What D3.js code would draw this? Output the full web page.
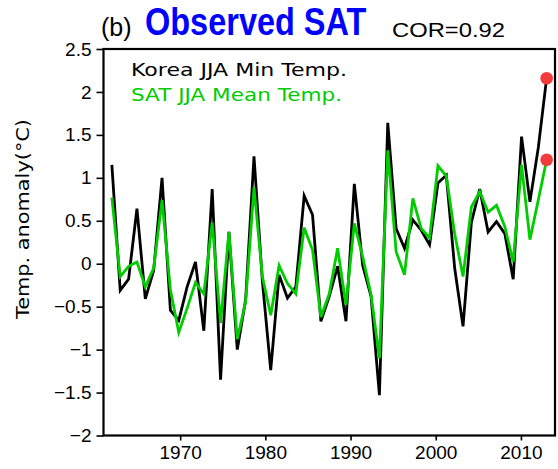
<!DOCTYPE html>
<html>
<head>
<meta charset="utf-8">
<script src="https://cdn.jsdelivr.net/npm/d3@7/dist/d3.min.js"></script>
<style>
  html, body { margin: 0; padding: 0; background: #fff; }
  svg { display: block; }
</style>
</head>
<body>
<svg id="chart" width="558" height="469"></svg>
<script>
// ---- data ----
const years = [1961,1962,1963,1964,1965,1966,1967,1968,1969,1970,1971,1972,1973,1974,1975,1976,1977,1978,1979,1980,
  1981,1982,1983,1984,1985,1986,1987,1988,1989,1990,1991,1992,1993,1994,1995,1996,1997,1998,1999,2000,
  2001,2002,2003,2004,2005,2006,2007,2008,2009,2010,2011,2012,2013];
const koreaMin = [1.15,-0.31,-0.18,0.64,-0.41,-0.08,1.0,-0.54,-0.66,-0.27,0.02,-0.78,0.87,-1.35,0.37,-1.0,-0.42,1.25,-0.2,-1.24,
  -0.13,-0.4,-0.27,0.79,0.57,-0.67,-0.38,-0.03,-0.67,0.93,-0.02,-0.38,-1.53,1.64,0.41,0.18,0.51,0.39,0.22,0.94,
  1.03,-0.05,-0.73,0.48,0.87,0.37,0.49,0.35,-0.18,1.48,0.72,1.35,2.16];
const satMean = [0.77,-0.15,-0.03,0.02,-0.27,-0.05,0.74,-0.3,-0.8,-0.52,-0.22,-0.35,0.48,-0.69,0.37,-0.88,-0.44,0.89,-0.15,-0.6,
  -0.02,-0.23,-0.35,0.42,0.16,-0.62,-0.35,0.18,-0.48,0.47,0.08,-0.36,-1.1,1.32,0.14,-0.13,0.76,0.41,0.3,1.14,
  1.02,0.35,-0.15,0.66,0.84,0.6,0.68,0.43,0.02,1.15,0.28,0.74,1.21];
const xTickYears = [1970,1980,1990,2000,2010];
const yTickValues = [-2,-1.5,-1,-0.5,0,0.5,1,1.5,2,2.5];
const seriesNames = ["Korea JJA Min Temp.","SAT JJA Mean Temp."];
const corText = "COR=0.92";

// ---- layout ----
const L = 103.5, R = 555, T = 49, B = 435.5;
const svg = d3.select("#chart");

const x = d3.scaleLinear().domain([1960, 2014]).range([L, R]);
const xAxisScale = d3.scaleLinear().domain([1961, 2014]).range([L, R]);
const y = d3.scaleLinear().domain([-2, 2.5]).range([B, T]);

const fmtY = v => (v < 0 ? "\u2212" : "") + String(Math.abs(v));

// y axis
const yAxis = svg.append("g").attr("transform", `translate(${L},0)`)
  .call(d3.axisLeft(y).tickValues(yTickValues).tickSize(7).tickPadding(5).tickFormat(fmtY));
yAxis.select(".domain").remove();
yAxis.selectAll("line").attr("stroke", "#000").attr("stroke-width", 1.6);
yAxis.selectAll("text").attr("font-family", "Liberation Sans, Arial, sans-serif")
  .attr("font-size", 19).attr("fill", "#000");

// x axis
const xAxis = svg.append("g").attr("transform", `translate(0,${B})`)
  .call(d3.axisBottom(xAxisScale).tickValues(xTickYears).tickSize(5).tickPadding(5).tickFormat(d3.format("d")));
xAxis.select(".domain").remove();
xAxis.selectAll("line").attr("stroke", "#000").attr("stroke-width", 1.6);
xAxis.selectAll("text").attr("font-family", "Liberation Sans, Arial, sans-serif")
  .attr("font-size", 19).attr("fill", "#000");

// lines
const line = d3.line().x((d, i) => x(years[i])).y(d => y(d));
svg.append("path").datum(koreaMin).attr("d", line)
  .attr("fill", "none").attr("stroke", "#000").attr("stroke-width", 2.8).attr("stroke-linejoin", "miter");
svg.append("path").datum(satMean).attr("d", line)
  .attr("fill", "none").attr("stroke", "#00cc00").attr("stroke-width", 2.8).attr("stroke-linejoin", "miter");

// last-year markers
const lastI = years.length - 1;
[koreaMin[lastI], satMean[lastI]].forEach(v => {
  svg.append("circle").attr("cx", x(years[lastI])).attr("cy", y(v)).attr("r", 6.3).attr("fill", "#f23c3c");
});

// frame
svg.append("rect").attr("x", L).attr("y", T).attr("width", R - L).attr("height", B - T)
  .attr("fill", "none").attr("stroke", "#000").attr("stroke-width", 2.2);

// legend
svg.append("text").attr("x", 131).attr("y", 76).attr("font-family", "DejaVu Sans, sans-serif")
  .attr("font-size", 18).attr("fill", "#000").attr("textLength", 216).attr("lengthAdjust", "spacingAndGlyphs")
  .text(seriesNames[0]);
svg.append("text").attr("x", 131).attr("y", 101).attr("font-family", "DejaVu Sans, sans-serif")
  .attr("font-size", 18).attr("fill", "#00cc00").attr("textLength", 211).attr("lengthAdjust", "spacingAndGlyphs")
  .text(seriesNames[1]);

// y title
svg.append("text").attr("transform", "translate(29,219) rotate(-90)").attr("text-anchor", "middle")
  .attr("font-family", "DejaVu Sans, sans-serif").attr("font-size", 17).attr("fill", "#000")
  .attr("textLength", 200).attr("lengthAdjust", "spacingAndGlyphs")
  .text("Temp. anomaly(°C)");

// titles
svg.append("text").attr("x", 101).attr("y", 36).attr("font-family", "Liberation Sans, Arial, sans-serif")
  .attr("font-size", 25).attr("fill", "#000").text("(b)");
svg.append("text").attr("transform", "translate(145,35) scale(0.855,1)")
  .attr("font-family", "Liberation Sans, Arial, sans-serif")
  .attr("font-weight", "bold").attr("font-size", 38).attr("fill", "#0000ff")
  .text("Observed SAT");
svg.append("text").attr("x", 392).attr("y", 37).attr("font-family", "Liberation Sans, Arial, sans-serif")
  .attr("font-size", 20).attr("fill", "#000").attr("textLength", 113).attr("lengthAdjust", "spacingAndGlyphs")
  .text(corText);
</script>
</body>
</html>
